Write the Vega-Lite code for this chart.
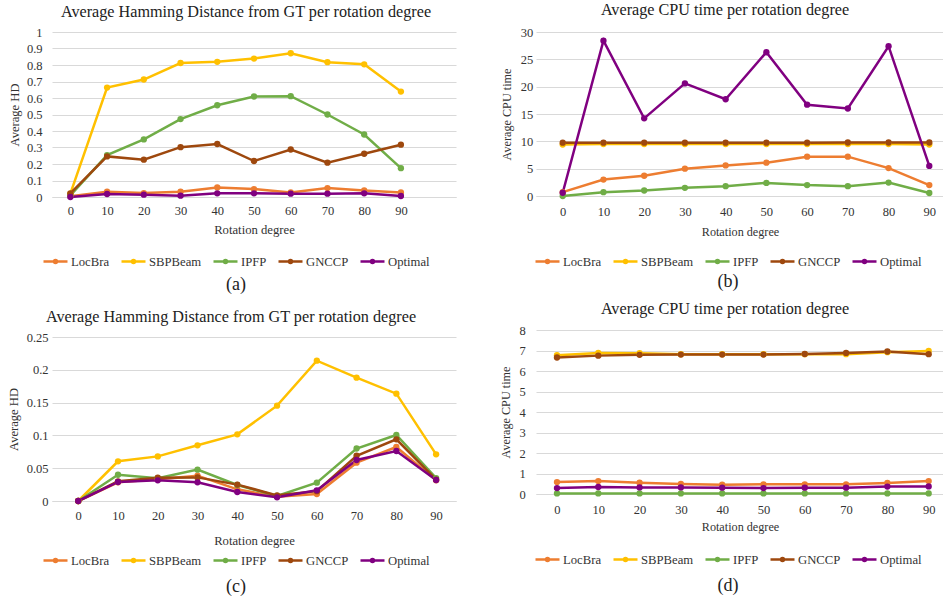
{
  "$schema": "https://vega.github.io/schema/vega-lite/v6.json",
  "background": "white",
  "padding": {"left": 7, "top": 1, "right": 0, "bottom": 0},
  "config": {
    "font": "Liberation Serif",
    "view": {"stroke": null},
    "axis": {"labelFont": "Liberation Serif", "titleFont": "Liberation Serif", "titleFontWeight": "normal", "labelColor": "#333333", "titleColor": "#333333", "labelFontSize": 12.5, "titleFontSize": 12.6},
    "axisY": {"grid": true, "gridColor": "#D9D9D9", "gridWidth": 1, "domain": false, "ticks": false, "format": "~g"},
    "axisX": {"grid": false, "domain": true, "domainColor": "#D9D9D9", "domainWidth": 1, "ticks": false, "labelAngle": 0},
    "title": {"font": "Liberation Serif", "fontSize": 16.2, "fontWeight": "normal", "color": "#222222", "frame": "group", "anchor": "middle"},
    "legend": {"orient": "none", "direction": "horizontal", "gridAlign": "none", "labelFont": "Liberation Serif", "labelFontSize": 12.7, "labelColor": "#333333", "symbolType": "M-1,0H1M0.125,0A0.125,0.125,0,1,1,-0.125,0A0.125,0.125,0,1,1,0.125,0", "symbolSize": 576, "symbolStrokeWidth": 2.5, "labelOffset": 2, "columnPadding": 6, "titleOrient": "bottom", "titleAnchor": "middle", "titleFont": "Liberation Serif", "titleFontSize": 18, "titleFontWeight": "normal", "titleColor": "#222222"}
  },
  "datasets": {
    "a": [
      {"d":0,"m":"LocBra","v":0.005},{"d":10,"m":"LocBra","v":0.032},{"d":20,"m":"LocBra","v":0.024},{"d":30,"m":"LocBra","v":0.032},{"d":40,"m":"LocBra","v":0.058},{"d":50,"m":"LocBra","v":0.048},{"d":60,"m":"LocBra","v":0.028},{"d":70,"m":"LocBra","v":0.054},{"d":80,"m":"LocBra","v":0.040},{"d":90,"m":"LocBra","v":0.028},
      {"d":0,"m":"SBPBeam","v":0.02},{"d":10,"m":"SBPBeam","v":0.663},{"d":20,"m":"SBPBeam","v":0.712},{"d":30,"m":"SBPBeam","v":0.812},{"d":40,"m":"SBPBeam","v":0.819},{"d":50,"m":"SBPBeam","v":0.839},{"d":60,"m":"SBPBeam","v":0.871},{"d":70,"m":"SBPBeam","v":0.817},{"d":80,"m":"SBPBeam","v":0.804},{"d":90,"m":"SBPBeam","v":0.639},
      {"d":0,"m":"IPFP","v":0.01},{"d":10,"m":"IPFP","v":0.254},{"d":20,"m":"IPFP","v":0.349},{"d":30,"m":"IPFP","v":0.472},{"d":40,"m":"IPFP","v":0.556},{"d":50,"m":"IPFP","v":0.609},{"d":60,"m":"IPFP","v":0.611},{"d":70,"m":"IPFP","v":0.500},{"d":80,"m":"IPFP","v":0.379},{"d":90,"m":"IPFP","v":0.175},
      {"d":0,"m":"GNCCP","v":0.022},{"d":10,"m":"GNCCP","v":0.246},{"d":20,"m":"GNCCP","v":0.226},{"d":30,"m":"GNCCP","v":0.302},{"d":40,"m":"GNCCP","v":0.321},{"d":50,"m":"GNCCP","v":0.218},{"d":60,"m":"GNCCP","v":0.288},{"d":70,"m":"GNCCP","v":0.208},{"d":80,"m":"GNCCP","v":0.262},{"d":90,"m":"GNCCP","v":0.317},
      {"d":0,"m":"Optimal","v":0.0},{"d":10,"m":"Optimal","v":0.018},{"d":20,"m":"Optimal","v":0.014},{"d":30,"m":"Optimal","v":0.008},{"d":40,"m":"Optimal","v":0.022},{"d":50,"m":"Optimal","v":0.022},{"d":60,"m":"Optimal","v":0.02},{"d":70,"m":"Optimal","v":0.02},{"d":80,"m":"Optimal","v":0.022},{"d":90,"m":"Optimal","v":0.006}
    ],
    "b": [
      {"d":0,"m":"LocBra","v":0.7},{"d":10,"m":"LocBra","v":3.0},{"d":20,"m":"LocBra","v":3.7},{"d":30,"m":"LocBra","v":5.0},{"d":40,"m":"LocBra","v":5.6},{"d":50,"m":"LocBra","v":6.1},{"d":60,"m":"LocBra","v":7.2},{"d":70,"m":"LocBra","v":7.2},{"d":80,"m":"LocBra","v":5.1},{"d":90,"m":"LocBra","v":2.0},
      {"d":0,"m":"SBPBeam","v":9.4},{"d":10,"m":"SBPBeam","v":9.5},{"d":20,"m":"SBPBeam","v":9.5},{"d":30,"m":"SBPBeam","v":9.5},{"d":40,"m":"SBPBeam","v":9.5},{"d":50,"m":"SBPBeam","v":9.5},{"d":60,"m":"SBPBeam","v":9.5},{"d":70,"m":"SBPBeam","v":9.5},{"d":80,"m":"SBPBeam","v":9.5},{"d":90,"m":"SBPBeam","v":9.4},
      {"d":0,"m":"IPFP","v":0.0},{"d":10,"m":"IPFP","v":0.7},{"d":20,"m":"IPFP","v":1.0},{"d":30,"m":"IPFP","v":1.5},{"d":40,"m":"IPFP","v":1.8},{"d":50,"m":"IPFP","v":2.4},{"d":60,"m":"IPFP","v":2.0},{"d":70,"m":"IPFP","v":1.8},{"d":80,"m":"IPFP","v":2.45},{"d":90,"m":"IPFP","v":0.55},
      {"d":0,"m":"GNCCP","v":9.75},{"d":10,"m":"GNCCP","v":9.75},{"d":20,"m":"GNCCP","v":9.75},{"d":30,"m":"GNCCP","v":9.75},{"d":40,"m":"GNCCP","v":9.75},{"d":50,"m":"GNCCP","v":9.75},{"d":60,"m":"GNCCP","v":9.75},{"d":70,"m":"GNCCP","v":9.78},{"d":80,"m":"GNCCP","v":9.78},{"d":90,"m":"GNCCP","v":9.78},
      {"d":0,"m":"Optimal","v":0.6},{"d":10,"m":"Optimal","v":28.4},{"d":20,"m":"Optimal","v":14.2},{"d":30,"m":"Optimal","v":20.6},{"d":40,"m":"Optimal","v":17.7},{"d":50,"m":"Optimal","v":26.3},{"d":60,"m":"Optimal","v":16.7},{"d":70,"m":"Optimal","v":16.0},{"d":80,"m":"Optimal","v":27.4},{"d":90,"m":"Optimal","v":5.5}
    ],
    "c": [
      {"d":0,"m":"LocBra","v":0},{"d":10,"m":"LocBra","v":0.0285},{"d":20,"m":"LocBra","v":0.033},{"d":30,"m":"LocBra","v":0.0386},{"d":40,"m":"LocBra","v":0.0178},{"d":50,"m":"LocBra","v":0.0066},{"d":60,"m":"LocBra","v":0.0107},{"d":70,"m":"LocBra","v":0.0584},{"d":80,"m":"LocBra","v":0.0823},{"d":90,"m":"LocBra","v":0.0315},
      {"d":0,"m":"SBPBeam","v":0},{"d":10,"m":"SBPBeam","v":0.0605},{"d":20,"m":"SBPBeam","v":0.068},{"d":30,"m":"SBPBeam","v":0.0849},{"d":40,"m":"SBPBeam","v":0.1016},{"d":50,"m":"SBPBeam","v":0.1453},{"d":60,"m":"SBPBeam","v":0.2139},{"d":70,"m":"SBPBeam","v":0.188},{"d":80,"m":"SBPBeam","v":0.1636},{"d":90,"m":"SBPBeam","v":0.0711},
      {"d":0,"m":"IPFP","v":0},{"d":10,"m":"IPFP","v":0.040},{"d":20,"m":"IPFP","v":0.0346},{"d":30,"m":"IPFP","v":0.0478},{"d":40,"m":"IPFP","v":0.0244},{"d":50,"m":"IPFP","v":0.0076},{"d":60,"m":"IPFP","v":0.028},{"d":70,"m":"IPFP","v":0.080},{"d":80,"m":"IPFP","v":0.1006},{"d":90,"m":"IPFP","v":0.035},
      {"d":0,"m":"GNCCP","v":0},{"d":10,"m":"GNCCP","v":0.030},{"d":20,"m":"GNCCP","v":0.0356},{"d":30,"m":"GNCCP","v":0.036},{"d":40,"m":"GNCCP","v":0.025},{"d":50,"m":"GNCCP","v":0.0086},{"d":60,"m":"GNCCP","v":0.015},{"d":70,"m":"GNCCP","v":0.069},{"d":80,"m":"GNCCP","v":0.094},{"d":90,"m":"GNCCP","v":0.0325},
      {"d":0,"m":"Optimal","v":0},{"d":10,"m":"Optimal","v":0.029},{"d":20,"m":"Optimal","v":0.0315},{"d":30,"m":"Optimal","v":0.0285},{"d":40,"m":"Optimal","v":0.0137},{"d":50,"m":"Optimal","v":0.0056},{"d":60,"m":"Optimal","v":0.0163},{"d":70,"m":"Optimal","v":0.0625},{"d":80,"m":"Optimal","v":0.0762},{"d":90,"m":"Optimal","v":0.032}
    ],
    "d": [
      {"d":0,"m":"LocBra","v":0.58},{"d":10,"m":"LocBra","v":0.63},{"d":20,"m":"LocBra","v":0.55},{"d":30,"m":"LocBra","v":0.49},{"d":40,"m":"LocBra","v":0.45},{"d":50,"m":"LocBra","v":0.47},{"d":60,"m":"LocBra","v":0.47},{"d":70,"m":"LocBra","v":0.47},{"d":80,"m":"LocBra","v":0.54},{"d":90,"m":"LocBra","v":0.63},
      {"d":0,"m":"SBPBeam","v":6.77},{"d":10,"m":"SBPBeam","v":6.88},{"d":20,"m":"SBPBeam","v":6.87},{"d":30,"m":"SBPBeam","v":6.82},{"d":40,"m":"SBPBeam","v":6.82},{"d":50,"m":"SBPBeam","v":6.82},{"d":60,"m":"SBPBeam","v":6.82},{"d":70,"m":"SBPBeam","v":6.82},{"d":80,"m":"SBPBeam","v":6.92},{"d":90,"m":"SBPBeam","v":6.98},
      {"d":0,"m":"IPFP","v":0.03},{"d":10,"m":"IPFP","v":0.03},{"d":20,"m":"IPFP","v":0.03},{"d":30,"m":"IPFP","v":0.03},{"d":40,"m":"IPFP","v":0.03},{"d":50,"m":"IPFP","v":0.03},{"d":60,"m":"IPFP","v":0.03},{"d":70,"m":"IPFP","v":0.03},{"d":80,"m":"IPFP","v":0.03},{"d":90,"m":"IPFP","v":0.03},
      {"d":0,"m":"GNCCP","v":6.66},{"d":10,"m":"GNCCP","v":6.75},{"d":20,"m":"GNCCP","v":6.79},{"d":30,"m":"GNCCP","v":6.80},{"d":40,"m":"GNCCP","v":6.80},{"d":50,"m":"GNCCP","v":6.80},{"d":60,"m":"GNCCP","v":6.83},{"d":70,"m":"GNCCP","v":6.88},{"d":80,"m":"GNCCP","v":6.95},{"d":90,"m":"GNCCP","v":6.82},
      {"d":0,"m":"Optimal","v":0.29},{"d":10,"m":"Optimal","v":0.34},{"d":20,"m":"Optimal","v":0.32},{"d":30,"m":"Optimal","v":0.32},{"d":40,"m":"Optimal","v":0.31},{"d":50,"m":"Optimal","v":0.29},{"d":60,"m":"Optimal","v":0.31},{"d":70,"m":"Optimal","v":0.31},{"d":80,"m":"Optimal","v":0.36},{"d":90,"m":"Optimal","v":0.37}
    ]
  },
  "hconcat": [
    {
      "vconcat": [
        {
          "width": 404, "height": 165,
          "data": {"name": "a"},
          "title": {"text": "Average Hamming Distance from GT per rotation degree", "dx": -8, "offset": 6},
          "mark": {"type": "line", "strokeWidth": 2.5, "point": {"filled": true, "size": 40}},
          "encoding": {
            "x": {"field": "d", "type": "quantitative", "scale": {"domain": [-5, 105], "nice": false, "zero": false}, "axis": {"values": [0,10,20,30,40,50,60,70,80,90], "title": "Rotation degree", "labelPadding": 7, "titlePadding": 7, "titleFontSize": 12.7}},
            "y": {"field": "v", "type": "quantitative", "scale": {"domain": [0, 1], "nice": false}, "axis": {"values": [0,0.1,0.2,0.3,0.4,0.5,0.6,0.7,0.8,0.9,1], "title": "Average HD", "labelPadding": 10, "titlePadding": 5}},
            "color": {"field": "m", "type": "nominal", "scale": {"domain": ["LocBra","SBPBeam","IPFP","GNCCP","Optimal"], "range": ["#ED7D31","#FFC000","#70AD47","#9E480E","#800080"]}, "legend": {"title": "(a)", "legendX": -10, "legendY": 216, "titlePadding": 8}}
          }
        },
        {
          "width": 404, "height": 164,
          "data": {"name": "c"},
          "title": {"text": "Average Hamming Distance from GT per rotation degree", "dx": -23, "offset": 6},
          "mark": {"type": "line", "strokeWidth": 2.5, "point": {"filled": true, "size": 40}},
          "encoding": {
            "x": {"field": "d", "type": "quantitative", "scale": {"domain": [-6.6, 95], "nice": false, "zero": false}, "axis": {"values": [0,10,20,30,40,50,60,70,80,90], "title": "Rotation degree", "labelPadding": 8, "titlePadding": 13, "titleFontSize": 12.7}},
            "y": {"field": "v", "type": "quantitative", "scale": {"domain": [0, 0.25], "nice": false}, "axis": {"values": [0,0.05,0.1,0.15,0.2,0.25], "title": "Average HD", "labelPadding": 4, "titlePadding": 6}},
            "color": {"field": "m", "type": "nominal", "scale": {"domain": ["LocBra","SBPBeam","IPFP","GNCCP","Optimal"], "range": ["#ED7D31","#FFC000","#70AD47","#9E480E","#800080"]}, "legend": {"title": "(c)", "legendX": -10, "legendY": 210, "titlePadding": 11}}
          }
        }
      ],
      "spacing": 140,
      "bounds": "flush",
      "resolve": {"scale": {"color": "independent"}, "legend": {"color": "independent"}}
    },
    {
      "vconcat": [
        {
          "width": 408, "height": 164,
          "data": {"name": "b"},
          "title": {"text": "Average CPU time per rotation degree", "dx": -15, "offset": 8},
          "mark": {"type": "line", "strokeWidth": 2.5, "point": {"filled": true, "size": 40}},
          "encoding": {
            "x": {"field": "d", "type": "quantitative", "scale": {"domain": [-6.56, 93.61], "nice": false, "zero": false}, "axis": {"values": [0,10,20,30,40,50,60,70,80,90], "title": "Rotation degree", "labelPadding": 9, "titlePadding": 8, "titleFontSize": 12.2}},
            "y": {"field": "v", "type": "quantitative", "scale": {"domain": [0, 30], "nice": false}, "axis": {"values": [0,5,10,15,20,25,30], "title": "Average CPU time", "labelPadding": 3.3, "titlePadding": 6.5, "titleFontSize": 12.2}},
            "color": {"field": "m", "type": "nominal", "scale": {"domain": ["LocBra","SBPBeam","IPFP","GNCCP","Optimal"], "range": ["#ED7D31","#FFC000","#70AD47","#9E480E","#800080"]}, "legend": {"title": "(b)", "legendX": -2, "legendY": 216, "titlePadding": 5}}
          }
        },
        {
          "width": 408, "height": 164,
          "data": {"name": "d"},
          "title": {"text": "Average CPU time per rotation degree", "dx": -15, "offset": 7},
          "mark": {"type": "line", "strokeWidth": 2.5, "point": {"filled": true, "size": 40}},
          "encoding": {
            "x": {"field": "d", "type": "quantitative", "scale": {"domain": [-5.08, 93.71], "nice": false, "zero": false}, "axis": {"values": [0,10,20,30,40,50,60,70,80,90], "title": "Rotation degree", "labelPadding": 9, "titlePadding": 5, "titleFontSize": 12.2}},
            "y": {"field": "v", "type": "quantitative", "scale": {"domain": [0, 8], "nice": false}, "axis": {"values": [0,1,2,3,4,5,6,7,8], "title": "Average CPU time", "labelPadding": 10.7, "titlePadding": 7, "titleFontSize": 12.2}},
            "color": {"field": "m", "type": "nominal", "scale": {"domain": ["LocBra","SBPBeam","IPFP","GNCCP","Optimal"], "range": ["#ED7D31","#FFC000","#70AD47","#9E480E","#800080"]}, "legend": {"title": "(d)", "legendX": -2, "legendY": 216, "titlePadding": 11}}
          }
        }
      ],
      "spacing": 134,
      "bounds": "flush",
      "resolve": {"scale": {"color": "independent"}, "legend": {"color": "independent"}}
    }
  ],
  "spacing": 43,
  "resolve": {"scale": {"color": "independent"}, "legend": {"color": "independent"}}
}
